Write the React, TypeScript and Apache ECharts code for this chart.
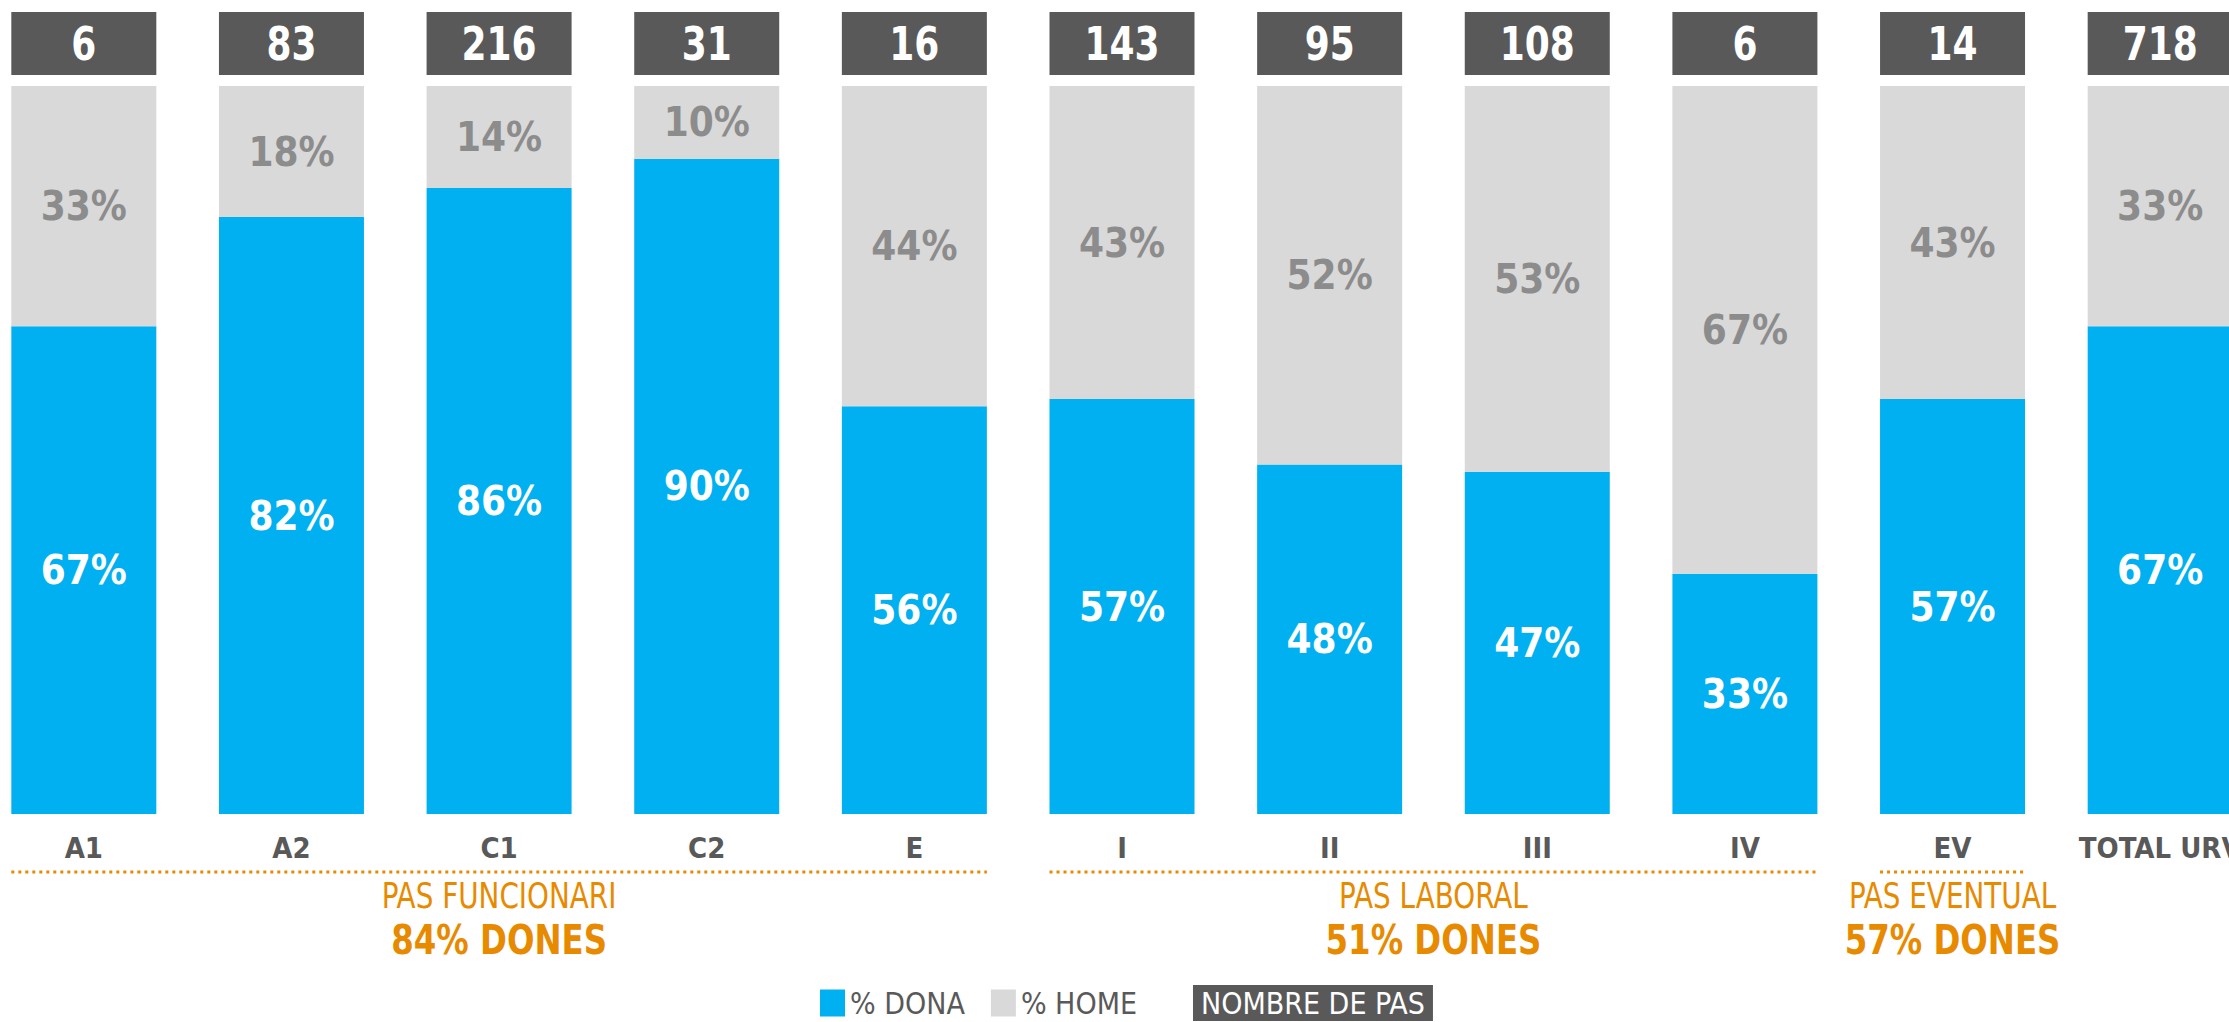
import React, { useEffect, useRef } from "react";
import * as echarts from "echarts";

const categories = ["A1", "A2", "C1", "C2", "E", "I", "II", "III", "IV", "EV", "TOTAL URV"];
const donaPct = [67, 82, 86, 90, 56, 57, 48, 47, 33, 57, 67];
const homePct = [33, 18, 14, 10, 44, 43, 52, 53, 67, 43, 33];
const staffCounts = [6, 83, 216, 31, 16, 143, 95, 108, 6, 14, 718];

const groupNames = ["PAS FUNCIONARI", "PAS LABORAL", "PAS EVENTUAL"];
const groupWomen = ["84% DONES", "51% DONES", "57% DONES"];
const groupFrom = ["A1", "I", "EV"];
const groupTo = ["E", "IV", "EV"];

const FONT = "'Liberation Sans Narrow', 'DejaVu Sans Condensed', 'Roboto Condensed', sans-serif";
const BLUE = "#00B0F0";
const LIGHT = "#D9D9D9";
const DARK = "#595959";
const ORANGE = "#E88A00";
const BAR_W = 145;
const SHIFT = 20; // chart container starts this many px left of the page

export default function App() {
  const ref = useRef<HTMLDivElement>(null);
  useEffect(() => {
    document.body.style.margin = "0";
    document.body.style.overflow = "hidden";
    const chart = echarts.init(ref.current!, null, { renderer: "svg" });
    const option: any = {
      animation: false,
      backgroundColor: "#ffffff",
      grid: { left: 0, top: 86, width: 2284, height: 728, containLabel: false },
      xAxis: {
        type: "category",
        data: categories,
        axisLine: { show: false },
        axisTick: { show: false },
        axisLabel: {
          interval: 0,
          margin: 19,
          color: DARK,
          fontFamily: FONT,
          fontWeight: "bold",
          fontSize: 29,
        },
      },
      yAxis: { type: "value", min: 0, max: 100, show: false, splitLine: { show: false } },
      legend: {
        left: 815 + SHIFT,
        top: 980,
        itemWidth: 25,
        itemHeight: 27,
        itemGap: 26,
        textStyle: { color: DARK, fontFamily: FONT, fontSize: 30 },
        data: [
          { name: "% DONA", icon: "rect" },
          { name: "% HOME", icon: "rect" },
          {
            name: "NOMBRE DE PAS",
            icon: "none",
            textStyle: { color: "#ffffff", backgroundColor: DARK, padding: [3, 8, 3, 8] },
          },
        ],
        selectedMode: false,
      },
      series: [
        {
          name: "% DONA",
          type: "bar",
          stack: "pct",
          barWidth: BAR_W,
          data: donaPct,
          itemStyle: { color: BLUE },
          label: {
            show: true,
            position: "inside",
            formatter: "{c}%",
            color: "#ffffff",
            fontFamily: FONT,
            fontWeight: "bold",
            fontSize: 40,
          },
        },
        {
          name: "% HOME",
          type: "bar",
          stack: "pct",
          barWidth: BAR_W,
          data: homePct,
          itemStyle: { color: LIGHT },
          label: {
            show: true,
            position: "inside",
            formatter: "{c}%",
            color: "#8C8C8C",
            fontFamily: FONT,
            fontWeight: "bold",
            fontSize: 40,
          },
        },
        {
          name: "NOMBRE DE PAS",
          type: "custom",
          clip: false,
          itemStyle: { color: DARK },
          data: categories.map((c, i) => [c, staffCounts[i]]),
          encode: { x: 0, y: -1 },
          renderItem: (params: any, api: any) => {
            const pt = api.coord([api.value(0), 100]);
            return {
              type: "group",
              children: [
                {
                  type: "rect",
                  shape: { x: pt[0] - BAR_W / 2, y: pt[1] - 74, width: BAR_W, height: 63 },
                  style: { fill: DARK },
                },
                {
                  type: "text",
                  x: pt[0],
                  y: pt[1] - 42,
                  scaleX: 0.85,
                  style: {
                    text: String(api.value(1)),
                    x: 0,
                    y: 0,
                    align: "center",
                    verticalAlign: "middle",
                    fill: "#ffffff",
                    fontFamily: FONT,
                    fontWeight: "bold",
                    fontSize: 47,
                  },
                },
              ],
            };
          },
        },
      ],
    };
    chart.setOption(option);

    const base = chart.convertToPixel({ yAxisIndex: 0 }, 0) as number;
    const graphics: any[] = [];
    groupNames.forEach((name, i) => {
      const a = chart.convertToPixel({ xAxisIndex: 0 }, groupFrom[i]) as number;
      const b = chart.convertToPixel({ xAxisIndex: 0 }, groupTo[i]) as number;
      const x1 = a - BAR_W / 2;
      const x2 = b + BAR_W / 2;
      const cx = (x1 + x2) / 2;
      graphics.push({
        type: "line",
        shape: { x1, y1: base + 58, x2, y2: base + 58 },
        style: { stroke: ORANGE, lineWidth: 3, lineDash: [3, 4] },
      });
      graphics.push({
        type: "text",
        x: cx,
        y: base + 82,
        scaleX: 0.86,
        style: {
          text: name,
          align: "center",
          verticalAlign: "middle",
          fill: ORANGE,
          fontFamily: FONT,
          fontSize: 36,
        },
      });
      graphics.push({
        type: "text",
        x: cx,
        y: base + 126,
        scaleX: 0.9,
        style: {
          text: groupWomen[i],
          align: "center",
          verticalAlign: "middle",
          fill: ORANGE,
          fontFamily: FONT,
          fontWeight: "bold",
          fontSize: 40,
        },
      });
    });
    chart.setOption({ graphic: graphics });

    return () => chart.dispose();
  }, []);
  return (
    <div
      ref={ref}
      style={{ position: "fixed", left: -SHIFT, top: 0, width: 2229 + SHIFT + 60, height: 1022 }}
    />
  );
}
